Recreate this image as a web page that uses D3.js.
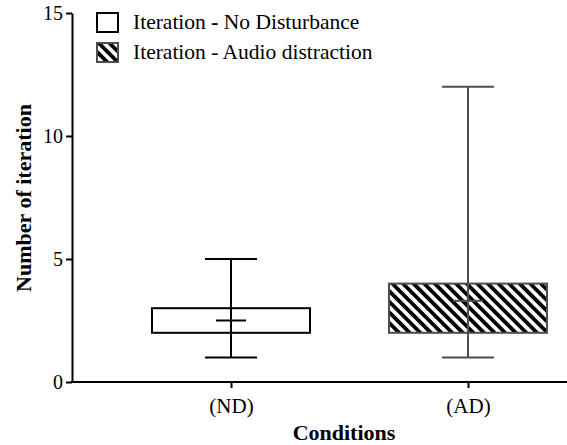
<!DOCTYPE html>
<html>
<head>
<meta charset="utf-8">
<script src="https://cdn.jsdelivr.net/npm/d3@7"></script>
<style>
  body { margin: 0; background: #fff; }
  svg { display: block; }
</style>
</head>
<body>
<svg id="chart"></svg>
<script>
// box plot data
var conditions = ['(ND)', '(AD)'];
var seriesNames = ['Iteration - No Disturbance', 'Iteration - Audio distraction'];
var whiskerMin = [1, 1];
var q1 = [2, 2];
var q3 = [3, 4];
var whiskerMax = [5, 12];
var means = [2.5, 3.3];
var yTicks = [0, 5, 10, 15];

var W = 567, H = 445;
var FONT = "'Liberation Serif', 'DejaVu Serif', serif";
var svg = d3.select('#chart').attr('width', W).attr('height', H);

var defs = svg.append('defs');
var pat = defs.append('pattern')
  .attr('id', 'hatch')
  .attr('patternUnits', 'userSpaceOnUse')
  .attr('width', 7.5).attr('height', 10)
  .attr('patternTransform', 'rotate(-45)');
pat.append('rect').attr('width', 7.5).attr('height', 10).attr('fill', '#fff');
pat.append('rect').attr('width', 3.8).attr('height', 10).attr('fill', '#000');

var y = d3.scaleLinear().domain([0, 15]).range([382, 13]);
var x = d3.scalePoint().domain(conditions).range([72, 627]).padding(0.671);

var boxW = 158, capW = 52, meanW = 30;

var rows = conditions.map(function(c, i) {
  return {c: c, lo: whiskerMin[i], q1: q1[i], q3: q3[i], hi: whiskerMax[i], mean: means[i], i: i};
});

var g = svg.append('g');
rows.forEach(function(d) {
  var cx = x(d.c);
  var col = d.i === 0 ? '#000' : '#4d4d4d';
  var gg = g.append('g');
  // whisker line
  gg.append('line').attr('x1', cx).attr('x2', cx)
    .attr('y1', y(d.lo)).attr('y2', y(d.hi))
    .attr('stroke', col).attr('stroke-width', 2);
  // box
  gg.append('rect')
    .attr('x', cx - boxW / 2).attr('width', boxW)
    .attr('y', y(d.q3)).attr('height', y(d.q1) - y(d.q3))
    .attr('fill', d.i === 0 ? '#fff' : 'url(#hatch)')
    .attr('stroke', col).attr('stroke-width', 2);
  // whisker shows through the box
  gg.append('line').attr('x1', cx).attr('x2', cx)
    .attr('y1', y(d.q1)).attr('y2', y(d.q3))
    .attr('stroke', col).attr('stroke-width', 2);
  // caps
  [d.lo, d.hi].forEach(function(v) {
    gg.append('line').attr('x1', cx - capW / 2).attr('x2', cx + capW / 2)
      .attr('y1', y(v)).attr('y2', y(v))
      .attr('stroke', col).attr('stroke-width', 2);
  });
  // mean
  gg.append('line').attr('x1', cx - meanW / 2).attr('x2', cx + meanW / 2)
    .attr('y1', y(d.mean)).attr('y2', y(d.mean))
    .attr('stroke', col).attr('stroke-width', 2);
});

// axes
var yAxis = svg.append('g')
  .attr('transform', 'translate(72,0)')
  .call(d3.axisLeft(y).tickValues(yTicks).tickSize(6).tickSizeOuter(0));
var xAxis = svg.append('g')
  .attr('transform', 'translate(0,382)')
  .call(d3.axisBottom(x).tickSize(6).tickSizeOuter(0));

[yAxis, xAxis].forEach(function(a) {
  a.attr('font-family', null).attr('font-size', null);
  a.selectAll('path.domain').attr('stroke', '#000').attr('stroke-width', 2);
  a.selectAll('.tick line').attr('stroke', '#000').attr('stroke-width', 2);
  a.selectAll('text').style('font-family', FONT).style('font-size', '20px').attr('fill', '#000');
});
yAxis.selectAll('text').attr('x', -9);
xAxis.selectAll('text').attr('y', 16).style('font-size', '21px');
// x axis domain starts at the y axis
xAxis.select('path.domain').attr('d', 'M71,0H' + W);

// axis titles
svg.append('text')
  .attr('x', 344).attr('y', 440)
  .attr('text-anchor', 'middle')
  .style('font-family', FONT).style('font-size', '22px').style('font-weight', 'bold')
  .text('Conditions');
svg.append('text')
  .attr('transform', 'translate(31,198) rotate(-90)')
  .attr('text-anchor', 'middle')
  .style('font-family', FONT).style('font-size', '22px').style('font-weight', 'bold')
  .text('Number of iteration');

// legend
var leg = svg.append('g');
seriesNames.forEach(function(name, i) {
  var ly = 13 + i * 30;
  leg.append('rect')
    .attr('x', 97).attr('y', ly).attr('width', 21).attr('height', 19)
    .attr('fill', i === 0 ? '#fff' : 'url(#hatch)')
    .attr('stroke', i === 0 ? '#000' : '#4d4d4d').attr('stroke-width', 2);
  var parts = name.split(' - ');
  var t = leg.append('text')
    .attr('x', 133).attr('y', ly + 16)
    .style('font-family', FONT).style('font-size', '21.5px').attr('fill', '#000');
  t.append('tspan').text(parts[0] + ' ');
  t.append('tspan').style('font-weight', i === 0 ? 'bold' : 'normal').text('-');
  t.append('tspan').text(' ' + parts[1]);
});
</script>
</body>
</html>
